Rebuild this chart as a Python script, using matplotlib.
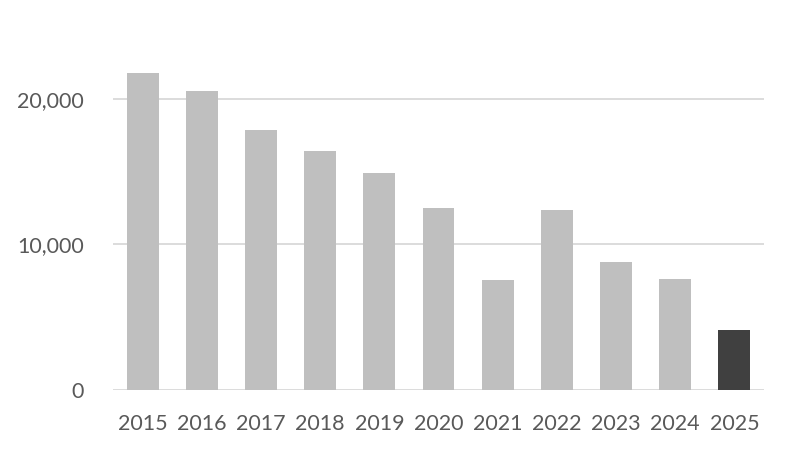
import matplotlib.pyplot as plt
import numpy as np

years = ["2015", "2016", "2017", "2018", "2019", "2020", "2021", "2022", "2023", "2024", "2025"]
values = [21750, 20520, 17840, 16400, 14890, 12490, 7550, 12350, 8790, 7620, 4120]
bar_colors = ["#bfbfbf"] * 10 + ["#404040"]
yticks = [0, 10000, 20000]

plt.rcParams['font.family'] = ['Lato', 'DejaVu Sans']

fig = plt.figure(figsize=(7.87, 4.5), dpi=100)
ax = fig.add_axes([113 / 787, 1 - 390 / 450, (764 - 113) / 787, 364 / 450])

x = np.arange(len(years))
ax.bar(x, values, width=0.54, color=bar_colors, zorder=3)

ax.set_xlim(-0.5, len(years) - 0.5)
ax.set_ylim(0, 25000)
ax.set_yticks(yticks)
ax.set_yticklabels([f"{v:,}" for v in yticks])
ax.set_xticks(x)
ax.set_xticklabels(years)

ax.grid(axis='y', color='#d9d9d9', linewidth=1.3, zorder=0)
for s in ax.spines.values():
    s.set_visible(False)
ax.tick_params(axis='both', length=0, labelsize=15.5, colors='#595959')
ax.tick_params(axis='x', pad=17)
ax.tick_params(axis='y', pad=21)

fig.savefig("out.png", dpi=100)
